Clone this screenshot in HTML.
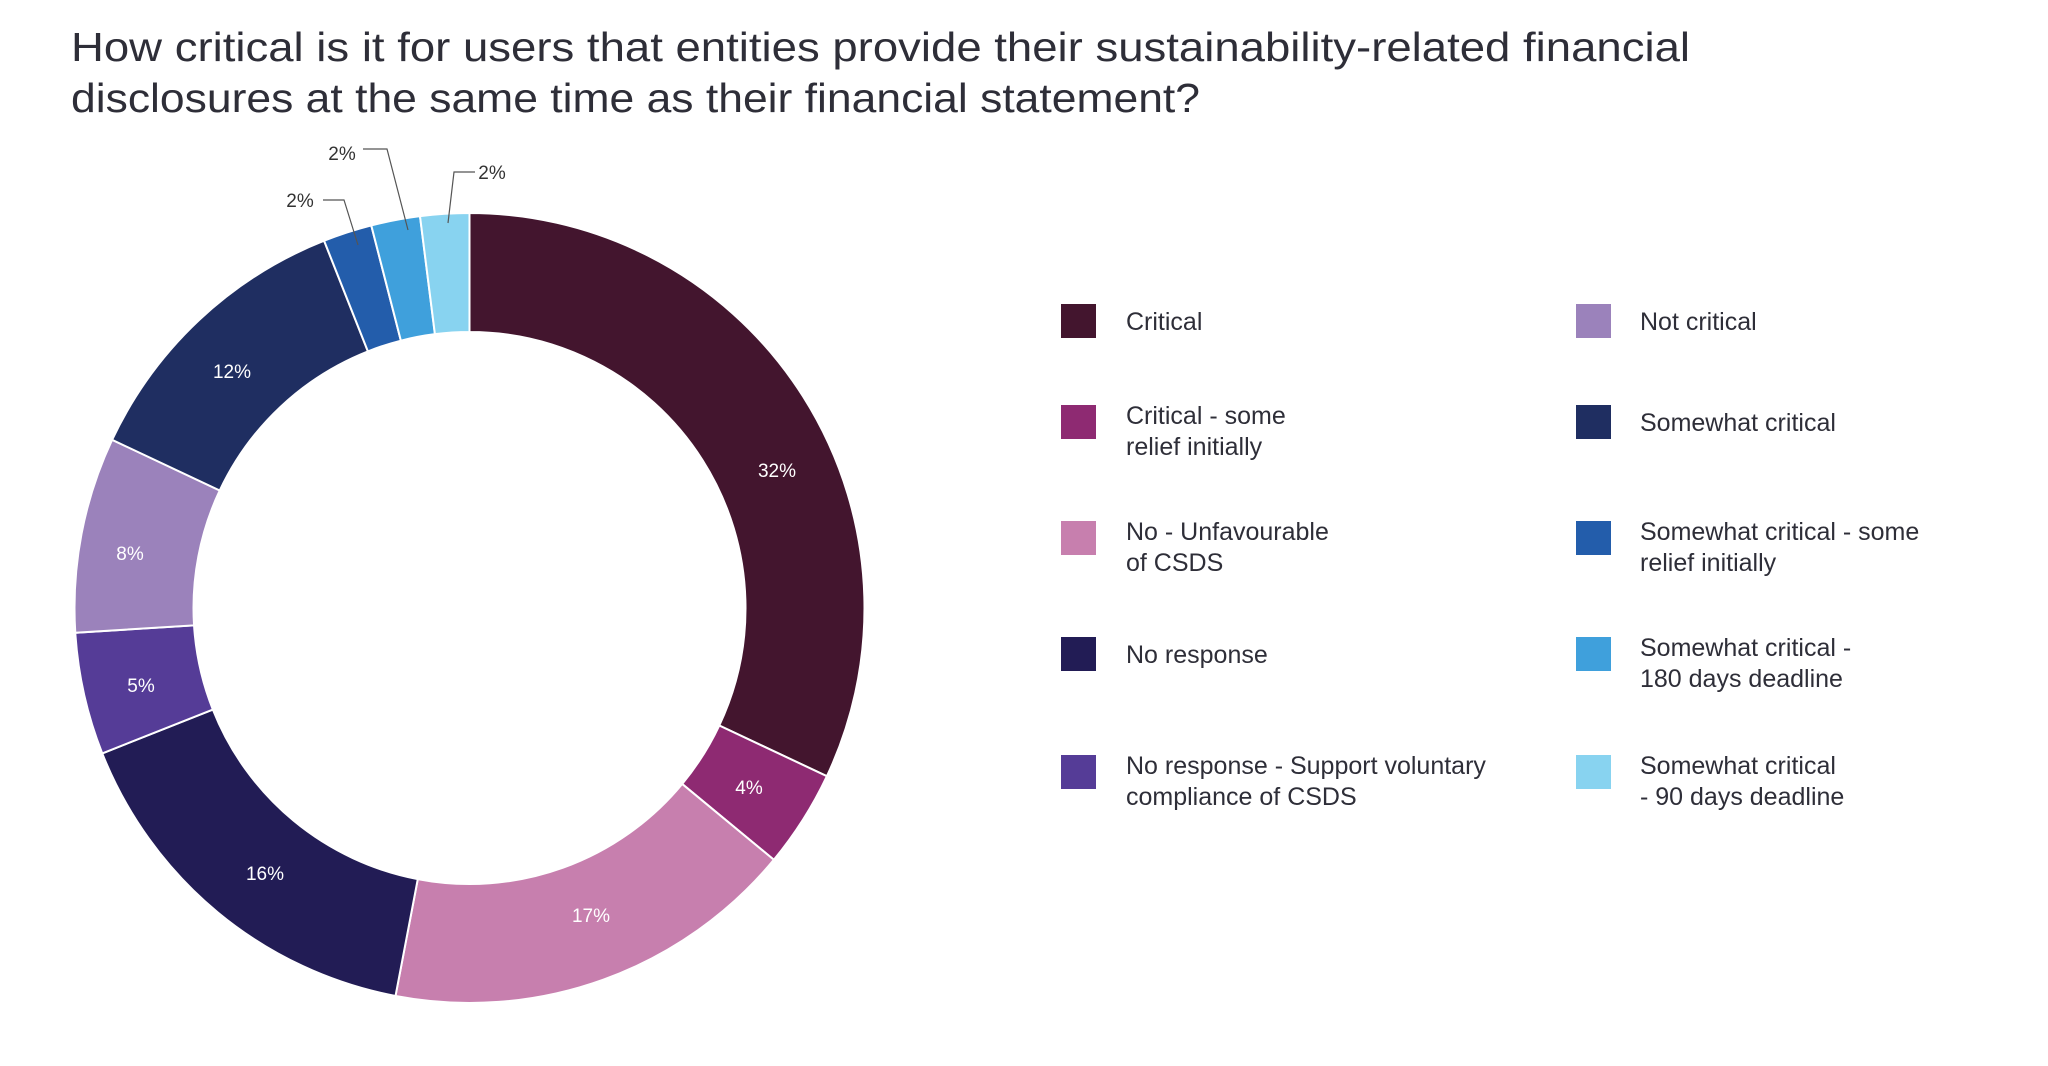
<!DOCTYPE html>
<html><head><meta charset="utf-8"><style>
html,body{margin:0;padding:0;background:#fff;}
body{width:2048px;height:1061px;overflow:hidden;font-family:"Liberation Sans",sans-serif;}
</style></head><body>
<svg id="s" width="2048" height="1061" xmlns="http://www.w3.org/2000/svg" font-family="Liberation Sans, sans-serif">
<text x="71" y="61" font-size="41" fill="#2e2e38" textLength="1619" lengthAdjust="spacingAndGlyphs">How critical is it for users that entities provide their sustainability-related financial</text>
<text x="71" y="112" font-size="41" fill="#2e2e38" textLength="1129" lengthAdjust="spacingAndGlyphs">disclosures at the same time as their financial statement?</text>
<g id="ring"></g>
<g font-size="19" fill="#fff" text-anchor="middle">
<text x="777" y="477">32%</text><text x="749" y="794">4%</text><text x="591" y="922">17%</text>
<text x="265" y="880">16%</text><text x="141" y="692">5%</text><text x="130" y="560">8%</text><text x="232" y="378">12%</text>
</g>
<g font-size="19" fill="#333" text-anchor="middle">
<text x="300" y="207">2%</text><text x="342" y="160">2%</text><text x="492" y="179">2%</text>
</g>
<g fill="none" stroke="#555" stroke-width="1.2">
<polyline points="323,200 344,200 358,245"/>
<polyline points="363,149 387,149 408,230"/>
<polyline points="475,172 454,172 448,223"/>
</g>
<g font-size="25" fill="#2e2e38">
<rect x="1061" y="304" width="35" height="34" fill="#43152e"/><text x="1126" y="330">Critical</text>
<rect x="1061" y="405" width="35" height="34" fill="#8e2a72"/><text x="1126" y="424">Critical - some</text><text x="1126" y="455">relief initially</text>
<rect x="1061" y="521" width="35" height="34" fill="#c77fae"/><text x="1126" y="540">No - Unfavourable</text><text x="1126" y="571">of CSDS</text>
<rect x="1061" y="637" width="35" height="34" fill="#221c55"/><text x="1126" y="663">No response</text>
<rect x="1061" y="755" width="35" height="34" fill="#553c97"/><text x="1126" y="774">No response - Support voluntary</text><text x="1126" y="805">compliance of CSDS</text>
<rect x="1576" y="304" width="35" height="34" fill="#9b82bb"/><text x="1640" y="330">Not critical</text>
<rect x="1576" y="405" width="35" height="34" fill="#1f2e61"/><text x="1640" y="431">Somewhat critical</text>
<rect x="1576" y="521" width="35" height="34" fill="#235dab"/><text x="1640" y="540">Somewhat critical - some</text><text x="1640" y="571">relief initially</text>
<rect x="1576" y="637" width="35" height="34" fill="#3fa0dc"/><text x="1640" y="656">Somewhat critical -</text><text x="1640" y="687">180 days deadline</text>
<rect x="1576" y="755" width="35" height="34" fill="#88d3f0"/><text x="1640" y="774">Somewhat critical</text><text x="1640" y="805">- 90 days deadline</text>
</g>
</svg>
<script>
var cx=469.5,cy=608,R=395,r=276;
var d=[[32,"#43152e"],[4,"#8e2a72"],[17,"#c77fae"],[16,"#221c55"],[5,"#553c97"],[8,"#9b82bb"],[12,"#1f2e61"],[2,"#235dab"],[2,"#3fa0dc"],[2,"#88d3f0"]];
var a=0,h="";
function p(rad,ang){var t=ang/100*2*Math.PI;return [cx+rad*Math.sin(t),cy-rad*Math.cos(t)];}
d.forEach(function(s){var b=a+s[0],l=s[0]>50?1:0;
var o1=p(R,a),o2=p(R,b),i1=p(r,b),i2=p(r,a);
h+='<path d="M'+o1+' A'+R+','+R+' 0 '+l+' 1 '+o2+' L'+i1+' A'+r+','+r+' 0 '+l+' 0 '+i2+' Z" fill="'+s[1]+'" stroke="#fff" stroke-width="2"/>';a=b;});
document.getElementById("ring").innerHTML=h;
</script>
</body></html>
